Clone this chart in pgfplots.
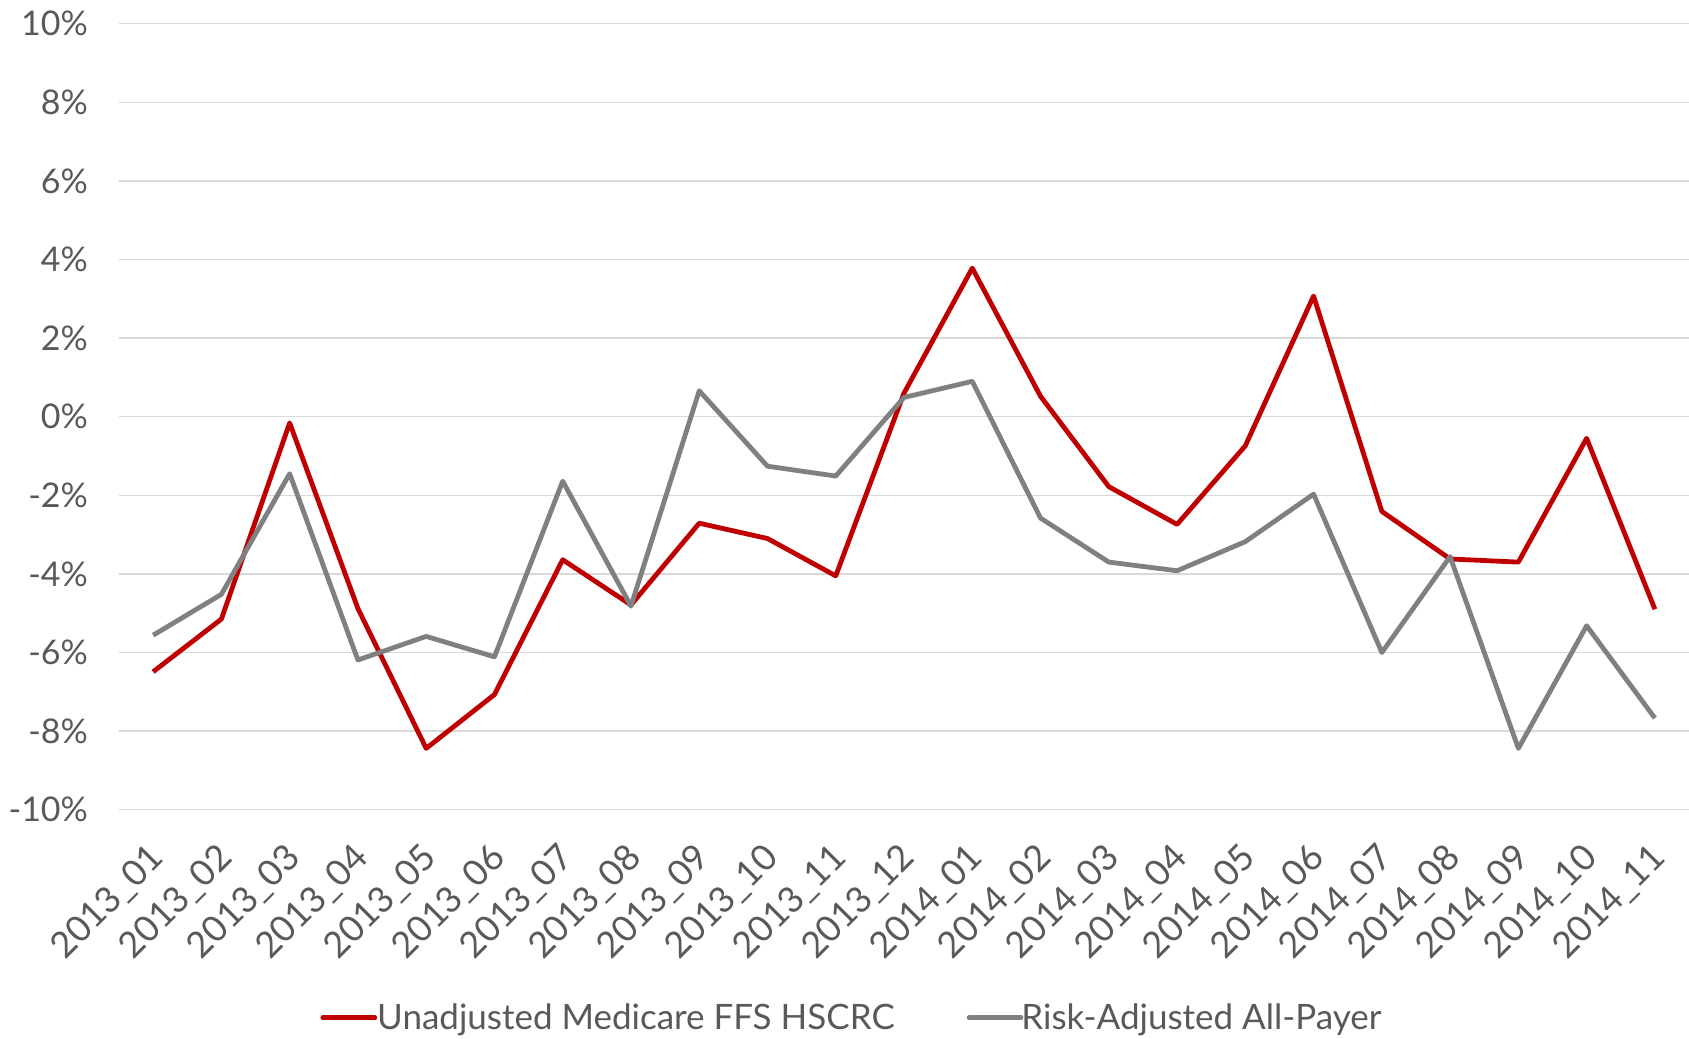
\documentclass[border=0pt]{standalone}
\usepackage{pgfplots}
\pgfplotsset{compat=1.18}
\usepackage{pgfplotstable}
\usepackage{fontspec}
\setmainfont{Lato}
\definecolor{redline}{HTML}{C00000}
\definecolor{grayline}{HTML}{808080}
\definecolor{gridc}{HTML}{D9D9D9}
\definecolor{txt}{HTML}{595959}
\pgfplotstableread{
i red gray
0 -6.49 -5.56
1 -5.15 -4.52
2 -0.16 -1.45
3 -4.88 -6.19
4 -8.44 -5.59
5 -7.07 -6.11
6 -3.64 -1.64
7 -4.79 -4.82
8 -2.71 0.66
9 -3.10 -1.26
10 -4.05 -1.51
11 0.60 0.49
12 3.78 0.90
13 0.52 -2.58
14 -1.78 -3.70
15 -2.74 -3.92
16 -0.74 -3.18
17 3.07 -1.97
18 -2.41 -6.00
19 -3.62 -3.56
20 -3.70 -8.44
21 -0.55 -5.32
22 -4.90 -7.67
}\data
\begin{document}
\begin{tikzpicture}
\begin{axis}[
  at={(0,0)}, anchor=south west,
  scale only axis, width=785pt, height=393pt,
  xmin=-0.5, xmax=22.5, ymin=-10, ymax=10,
  xtick={0,...,22},
  xticklabels={2013\_01,2013\_02,2013\_03,2013\_04,2013\_05,2013\_06,2013\_07,2013\_08,2013\_09,2013\_10,2013\_11,2013\_12,2014\_01,2014\_02,2014\_03,2014\_04,2014\_05,2014\_06,2014\_07,2014\_08,2014\_09,2014\_10,2014\_11},
  ytick={-10,-8,...,10},
  yticklabels={-10\%,-8\%,-6\%,-4\%,-2\%,0\%,2\%,4\%,6\%,8\%,10\%},
  axis line style={draw=none},
  major tick length=0pt,
  ymajorgrids, grid style={color=gridc, line width=0.75pt},
  tick label style={text=txt},
  yticklabel style={font=\fontsize{17}{20}\selectfont, xshift=-12pt},
  xticklabel style={font=\fontsize{18}{22}\selectfont, xshift=5pt, yshift=-19pt, rotate=45, anchor=east},
  legend style={at={(0.4675,-0.2646)}, anchor=center, draw=none, fill=none,
    legend columns=2, font=\fontsize{17.5}{20}\selectfont, text=txt,
    /tikz/every even column/.append style={column sep=34pt}},
  legend image code/.code={\draw[#1, line width=2.4pt, line cap=round] (0pt,0pt) -- (26pt,0pt);},
  legend cell align=left,
]
\addplot[redline, line width=2.4pt, line join=round] table[x=i, y=red] {\data};
\addlegendentry{\hspace{-2pt}Unadjusted Medicare FFS HSCRC}
\addplot[grayline, line width=2.4pt, line join=round] table[x=i, y=gray] {\data};
\addlegendentry{\hspace{-3pt}Risk-Adjusted All-Payer}
\end{axis}
\pgfresetboundingbox
\useasboundingbox (-59.5pt,-114.5pt) rectangle (785pt,404.85pt);
\end{tikzpicture}
\end{document}
